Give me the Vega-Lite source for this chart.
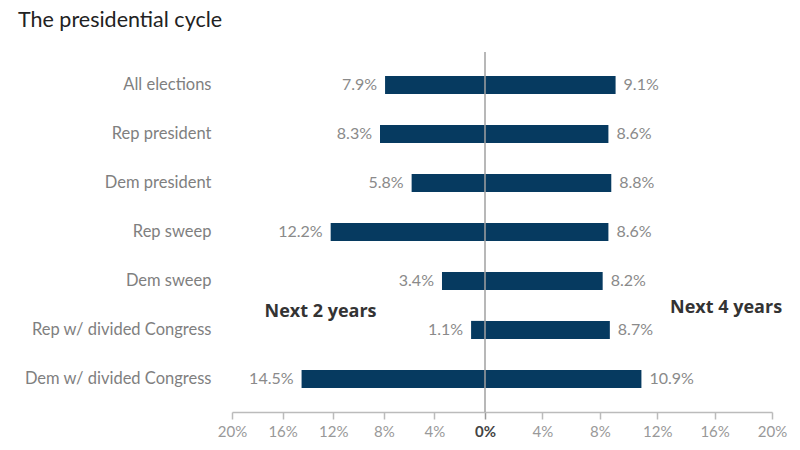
{
  "$schema": "https://vega.github.io/schema/vega-lite/v6.json",
  "autosize": {"type": "none"},
  "padding": {"left": 232, "top": 52, "right": 28, "bottom": 38},
  "width": 540,
  "height": 360,
  "background": "white",
  "title": {
    "text": "The presidential cycle",
    "anchor": "start",
    "frame": "group",
    "dx": -214,
    "offset": 20,
    "font": "Lato",
    "fontSize": 21.5,
    "fontWeight": "normal",
    "color": "#222222"
  },
  "config": {
    "view": {"stroke": null},
    "font": "Lato"
  },
  "data": {
    "values": [
      {"category": "All elections", "side": "Next 2 years", "value": -7.9},
      {"category": "All elections", "side": "Next 4 years", "value": 9.1},
      {"category": "Rep president", "side": "Next 2 years", "value": -8.3},
      {"category": "Rep president", "side": "Next 4 years", "value": 8.6},
      {"category": "Dem president", "side": "Next 2 years", "value": -5.8},
      {"category": "Dem president", "side": "Next 4 years", "value": 8.8},
      {"category": "Rep sweep", "side": "Next 2 years", "value": -12.2},
      {"category": "Rep sweep", "side": "Next 4 years", "value": 8.6},
      {"category": "Dem sweep", "side": "Next 2 years", "value": -3.4},
      {"category": "Dem sweep", "side": "Next 4 years", "value": 8.2},
      {"category": "Rep w/ divided Congress", "side": "Next 2 years", "value": -1.1},
      {"category": "Rep w/ divided Congress", "side": "Next 4 years", "value": 8.7},
      {"category": "Dem w/ divided Congress", "side": "Next 2 years", "value": -14.5},
      {"category": "Dem w/ divided Congress", "side": "Next 4 years", "value": 10.9}
    ]
  },
  "encoding": {
    "y": {
      "field": "category",
      "type": "nominal",
      "sort": null,
      "scale": {"paddingInner": 0.63, "paddingOuter": 0.49},
      "axis": {
        "title": null,
        "domain": false,
        "ticks": false,
        "labelPadding": 21,
        "labelFontSize": 16.5,
        "labelLimit": 0,
        "labelColor": "#7f7f7f",
        "labelFont": "Lato"
      }
    },
    "x": {
      "field": "value",
      "type": "quantitative",
      "scale": {"domain": [-20, 0, 20], "range": [0, 253, 540], "nice": false, "zero": false},
      "axis": {
        "title": null,
        "grid": false,
        "values": [-20, -16, -12, -8, -4, 0, 4, 8, 12, 16, 20],
        "labelExpr": "abs(datum.value) + '%'",
        "labelFlush": false,
        "labelOverlap": false,
        "labelFontSize": 15,
        "labelColor": {"condition": {"test": "datum.value == 0", "value": "#444444"}, "value": "#999999"},
        "labelFontWeight": {"condition": {"test": "datum.value == 0", "value": "bold"}, "value": "normal"},
        "labelPadding": 5,
        "domainColor": "#bbbbbb",
        "domainWidth": 1.5,
        "tickColor": {"condition": {"test": "datum.value == 0", "value": "#999999"}, "value": "#bbbbbb"},
        "tickWidth": 1.5,
        "tickSize": 7,
        "labelFont": "Lato"
      }
    }
  },
  "layer": [
    {
      "mark": {"type": "bar", "color": "#063a60"}
    },
    {
      "transform": [{"filter": "datum.side == 'Next 2 years'"}],
      "mark": {"type": "text", "align": "right", "baseline": "middle", "dx": -8, "fontSize": 16, "color": "#8a8a8a", "font": "Lato", "text": {"expr": "format(abs(datum.value), '.1f') + '%'"}}
    },
    {
      "transform": [{"filter": "datum.side == 'Next 4 years'"}],
      "mark": {"type": "text", "align": "left", "baseline": "middle", "dx": 8, "fontSize": 16, "color": "#8a8a8a", "font": "Lato", "text": {"expr": "format(abs(datum.value), '.1f') + '%'"}}
    },
    {
      "transform": [{"filter": "datum.category == 'All elections' && datum.side == 'Next 2 years'"}],
      "mark": {"type": "rule", "color": "#a0a0a0", "strokeWidth": 1.5},
      "encoding": {"x": {"datum": 0}, "y": null}
    },
    {
      "transform": [{"filter": "datum.category == 'Rep w/ divided Congress' && datum.side == 'Next 2 years'"}],
      "mark": {"type": "text", "text": "Next 2 years", "fontSize": 18, "fontWeight": "bold", "color": "#333333", "font": "Open Sans", "align": "center", "baseline": "middle", "dy": -18},
      "encoding": {"x": {"datum": -13}}
    },
    {
      "transform": [{"filter": "datum.category == 'Rep w/ divided Congress' && datum.side == 'Next 4 years'"}],
      "mark": {"type": "text", "text": "Next 4 years", "fontSize": 18, "fontWeight": "bold", "color": "#333333", "font": "Open Sans", "align": "center", "baseline": "middle", "dy": -22},
      "encoding": {"x": {"datum": 16.8}}
    }
  ]
}
